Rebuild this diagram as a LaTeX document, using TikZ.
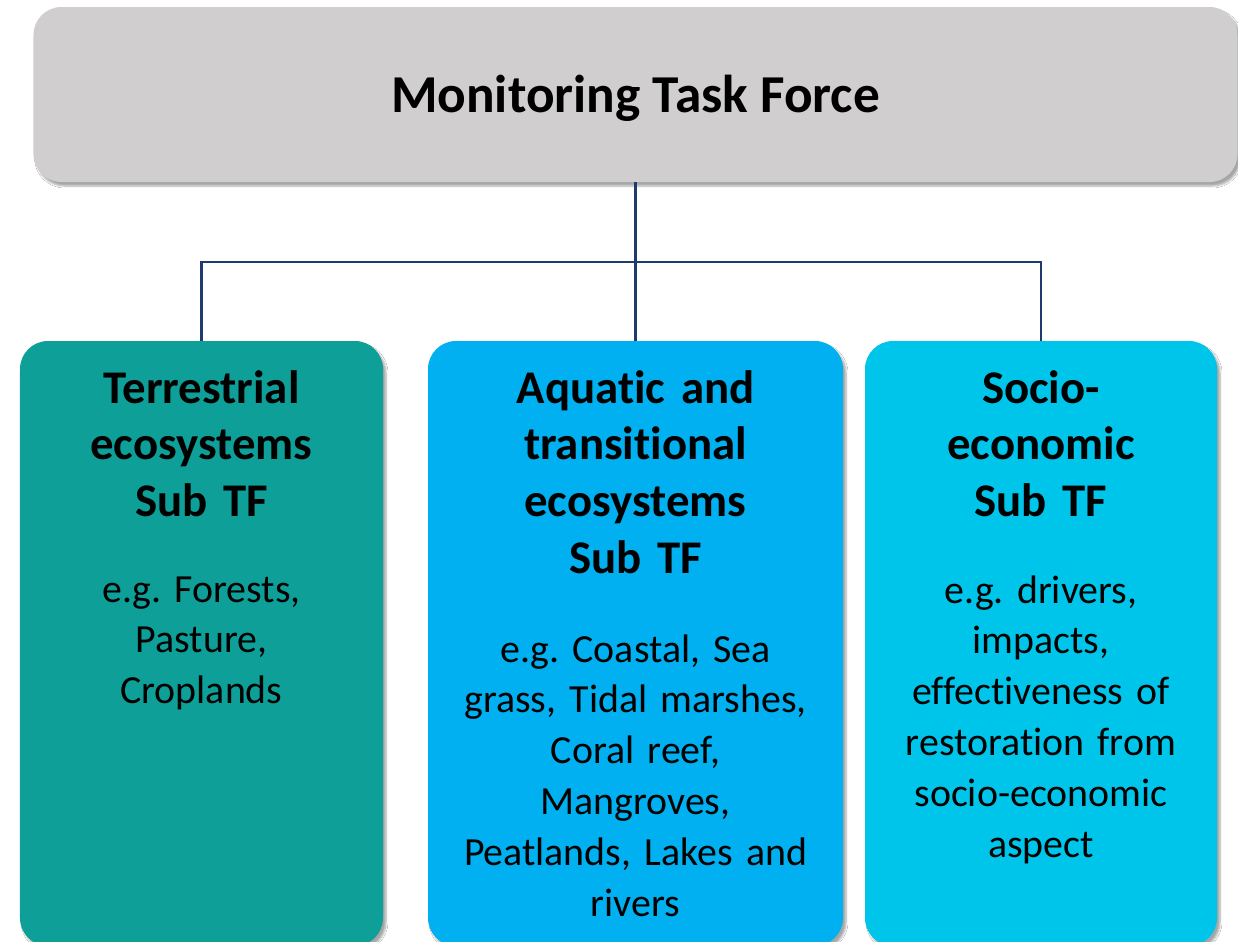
\documentclass[tikz,border=0pt]{standalone}
\usepackage{fontspec}
\setmainfont{Carlito}[Ligatures={NoCommon}]
\usetikzlibrary{shadows.blur}
\definecolor{topgray}{HTML}{D0CECE}
\definecolor{tealbox}{HTML}{0E9F99}
\definecolor{bluebox}{HTML}{00B0F0}
\definecolor{cyanbox}{HTML}{00C5EA}
\definecolor{navyline}{HTML}{1F3A6E}
\begin{document}
\frenchspacing
\begin{tikzpicture}[x=1bp,y=-1bp,
  box/.style={rounded corners=28bp, inner sep=0pt, draw=none,
    blur shadow={shadow xshift=3bp, shadow yshift=-4bp, shadow blur steps=6, shadow opacity=35}},
  head/.style={font=\fontsize{47}{57}\selectfont\bfseries\frenchspacing, align=center, anchor=base, inner sep=0pt},
  body/.style={font=\fontsize{40}{51}\selectfont\frenchspacing, align=center, anchor=base, inner sep=0pt},
  conn/.style={draw=navyline, line width=2.4bp}]
\useasboundingbox (0,0) rectangle (1238,942);
\fill[white] (0,0) rectangle (1238,942);
% boxes
\node[box, fill=topgray, minimum width=1204bp, minimum height=175bp] (top) at (635.5,94.5) {};
\node[box, fill=tealbox, minimum width=363bp, minimum height=605bp] (b1) at (201.5,643.5) {};
\node[box, fill=bluebox, minimum width=415bp, minimum height=605bp] (b2) at (635.5,643.5) {};
\node[box, fill=cyanbox, minimum width=352bp, minimum height=605bp] (b3) at (1041,643.5) {};
% connectors
\coordinate (bus) at (635.5,262);
\draw[conn] (top.south) -- (b2.north);
\draw[conn] (b1.north) |- (bus) -| (b3.north);
% texts
\node[font=\fontsize{53.5}{64}\selectfont\bfseries, anchor=base, inner sep=0pt] (title) at (635.5,112) {Monitoring Task Force};
\node[head, text width=340bp] (h1) at (201.5,403) {Terrestrial\\ecosystems\\Sub TF};
\node[body, text width=340bp] (t1) at (201.5,602) {e.g. Forests,\\Pasture,\\Croplands};
\node[head, text width=395bp] (h2) at (635.5,403) {Aquatic and\\transitional\\ecosystems\\Sub TF};
\node[body, text width=395bp] (t2) at (635.5,662) {e.g. Coastal, Sea\\grass, Tidal marshes,\\Coral reef,\\Mangroves,\\Peatlands, Lakes and\\rivers};
\node[head, text width=335bp] (h3) at (1041,403) {Socio-\\economic\\Sub TF};
\node[body, text width=335bp] (t3) at (1041,603) {e.g. drivers,\\impacts,\\effectiveness of\\restoration from\\socio-economic\\aspect};
\end{tikzpicture}
\end{document}
